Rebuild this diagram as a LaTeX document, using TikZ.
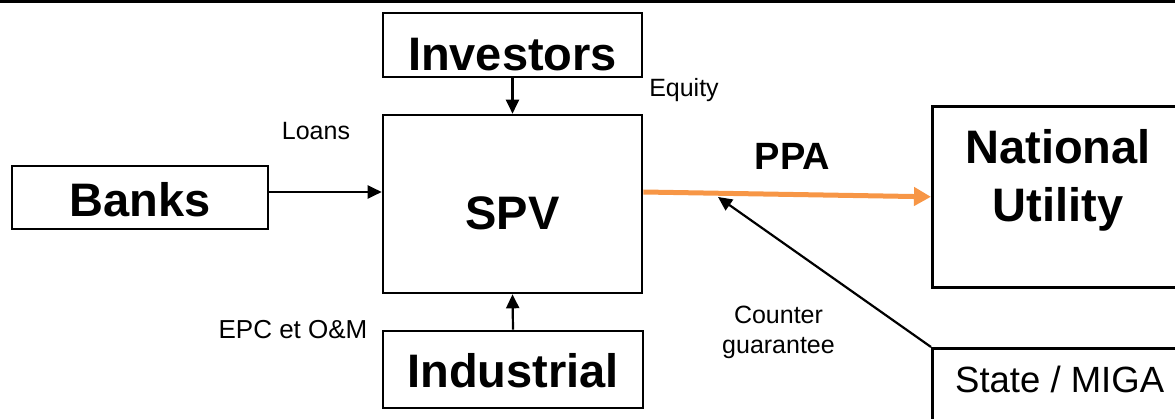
\documentclass[tikz,border=0pt]{standalone}
\usepackage{fontspec}
\setmainfont{Liberation Sans}
\usetikzlibrary{arrows.meta}
\definecolor{ppaorange}{HTML}{F79646}
\begin{document}
\begin{tikzpicture}[x=1pt,y=-1pt,
  box/.style={draw, line width=2.6pt, inner sep=0pt, font=\fontsize{47}{52}\selectfont\bfseries, text depth=0pt},
  frame/.style={draw, line width=2.6pt, inner sep=0pt},
  arr/.style={line width=2.2pt, -{Triangle[length=14pt,width=13pt]}},
  ppa/.style={draw=ppaorange, line width=5pt, -{Triangle[length=17pt,width=18pt]}},
  lbl/.style={inner sep=0pt, font=\fontsize{25}{30}\selectfont},
  big/.style={inner sep=0pt, font=\fontsize{47}{58}\selectfont\bfseries, align=center},
]
\useasboundingbox (0,0) rectangle (1175,419);
\clip (0,0) rectangle (1175,419);
\fill (0,0) rectangle (1175,3);

\node[box, minimum width=259pt, minimum height=64pt, text height=52pt] (inv) at (512.5,45) {Investors};
\node[box, minimum width=259pt, minimum height=178pt, text height=52pt] (spv) at (512.5,204) {SPV};
\node[box, minimum width=256pt, minimum height=63pt, text height=39pt] (banks) at (140,197.5) {Banks};
\node[box, minimum width=260pt, minimum height=77pt, text height=37pt] (ind) at (513,369.5) {Industrial};
\node[frame, minimum width=270pt, minimum height=181pt, anchor=north west] (nat) at (931,105) {};
\node[big] (nattext) at (1058,180) {National\\Utility};
\node[frame, minimum width=270pt, minimum height=100pt, anchor=north west] (state) at (931,347) {};
\node[anchor=base west, inner sep=0pt, font=\fontsize{36.5}{40}\selectfont] (statetext) at (955,392) {State / MIGA};

\node[lbl, anchor=base] (loans) at (316,140) {Loans};
\node[lbl, anchor=base] (equity) at (684,97) {Equity};
\node[lbl, anchor=base, font=\fontsize{26}{30}\selectfont] (epc) at (293,339) {EPC et O\&M};
\node[lbl, align=center] (cg) at (778.5,332) {Counter\\guarantee};
\node[inner sep=0pt, anchor=base, font=\fontsize{38}{40}\selectfont\bfseries] (ppalbl) at (792.5,170) {PPA};

\coordinate (cgtip) at (718,197);

\draw[arr] (inv.south) -- (spv.north);
\draw[arr] ([yshift=5.5pt]banks.east) -- ([yshift=5.5pt]banks.east -| spv.west);
\draw[arr] (ind.north) -- (spv.south);
\draw[ppa] ([yshift=12pt]spv.east) -- ([yshift=0pt]nat.west);
\draw[arr] (state.north west) -- (cgtip);
\end{tikzpicture}
\end{document}
